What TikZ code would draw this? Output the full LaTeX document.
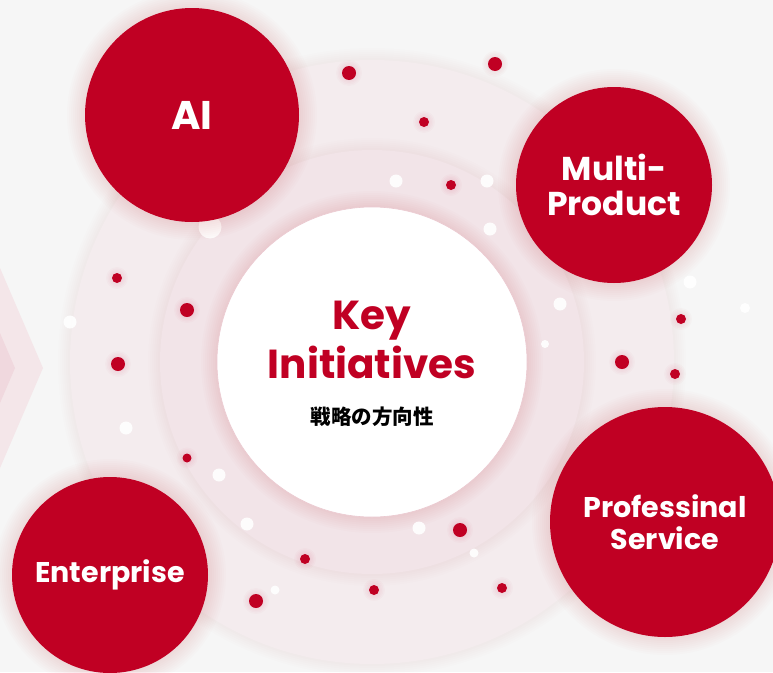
\documentclass[tikz,border=0pt]{standalone}
\usepackage{xcolor}
\usepackage{fontspec}
\newfontfamily\gfont{Poppins}
\newfontfamily\cjk{Noto Sans CJK JP}
\usepackage{tikz}
\usetikzlibrary{positioning}

\definecolor{krred}{HTML}{C00023}
\definecolor{bggray}{HTML}{F6F6F6}
\definecolor{ringout}{HTML}{F4ECEE}
\definecolor{ringmid}{HTML}{F2E4E8}
\definecolor{chevout}{HTML}{F4E6E9}
\definecolor{chevin}{HTML}{F0D8DE}
\definecolor{keyline}{HTML}{EBC9D0}

\tikzset{
  bubble/.style={circle, fill=krred, text=white, inner sep=0pt, align=center, font=\gfont\bfseries},
  reddot/.style={circle, fill=krred, inner sep=0pt},
  whitedot/.style={circle, fill=white, inner sep=0pt},
  halo/.style={krred, opacity=0.012}
}

\begin{document}
\begin{tikzpicture}[x=1pt, y=-1pt]

\fill[bggray] (0,0) rectangle (773,672);
\useasboundingbox (0,0) rectangle (773,672);

% chevron on the left edge
\fill[chevout] (0,268) -- (43,368) -- (0,468) -- cycle;
\fill[chevin] (0,333) -- (15,368) -- (0,403) -- cycle;

% rings
\foreach \k in {1,...,6}
  \fill[krred, opacity=0.006] (372,362) circle (302+2*\k);
\fill[ringout] (372,362) circle (302);
\foreach \k in {1,...,6}
  \fill[krred, opacity=0.008] (372,362) circle (212+2*\k);
\fill[ringmid] (372,362) circle (212);

% glow of the centre
\foreach \k in {1,...,8}
  \fill[halo] (372,362) circle (155+2*\k);

% white dots
\foreach \x/\y/\d [count=\i] in {210/227/23, 70/322/13, 396/181/13, 487/181/13, 490/229/13,
    560/304/13, 690/282/13, 745/308/10, 126/428/13, 219/475/13, 247/524/13,
    275/590/9, 545/344/8, 419/528/13, 474/553/9}
  \node[whitedot, opacity=0.9, minimum size=\d pt] (w\i) at (\x,\y) {};

% red dots
\foreach \x/\y/\d [count=\i] in {349/73/14, 495/64/14, 424/122/10, 451/185/10, 681/319/10,
    117/278/10, 187/310/14, 118/364/14, 187/458/9, 305/559/10, 256/601/14,
    374/590/10, 622/362/14, 675/374/10, 460/530/14, 502/588/10} {
  \foreach \k in {1,...,4}
    \fill[krred, opacity=0.02] (\x,\y) circle (\d/2+1.5*\k);
  \node[reddot, minimum size=\d pt] (r\i) at (\x,\y) {};
}

% centre circle
\node[circle, fill=white, draw=keyline, line width=0.6pt, minimum size=310pt] (key) at (372,362) {};
\node[inner sep=0pt, anchor=north, align=center, text=krred,
      font=\gfont\bfseries\fontsize{40.5}{49}\selectfont] (title) at (372,301) {Key\\Initiatives};
\node[inner sep=0pt, anchor=base, font=\cjk\bfseries\fontsize{20.5}{24}\selectfont] (sub) at (372,424) {戦略の方向性};

% initiative bubbles
\foreach \x/\y/\r in {192/115/107, 614/185/98, 110/575/98, 665/522/115}
  \foreach \k in {1,...,9}
    \fill[halo] (\x,\y) circle (\r+2*\k);

\node[bubble, minimum size=214pt, font=\gfont\bfseries\fontsize{40}{46}\selectfont] (ai) at (192,115) {AI};
\node[bubble, minimum size=196pt, font=\gfont\bfseries\fontsize{33}{35}\selectfont] (multi) at (614,185) {Multi-\\Product};
\node[bubble, minimum size=196pt, font=\gfont\bfseries\fontsize{28.5}{32}\selectfont] (ent) at (110,575) {Enterprise};
\node[bubble, minimum size=230pt, font=\gfont\bfseries\fontsize{28.5}{32}\selectfont] (pro) at (665,522) {Professinal\\Service};

\end{tikzpicture}
\end{document}
